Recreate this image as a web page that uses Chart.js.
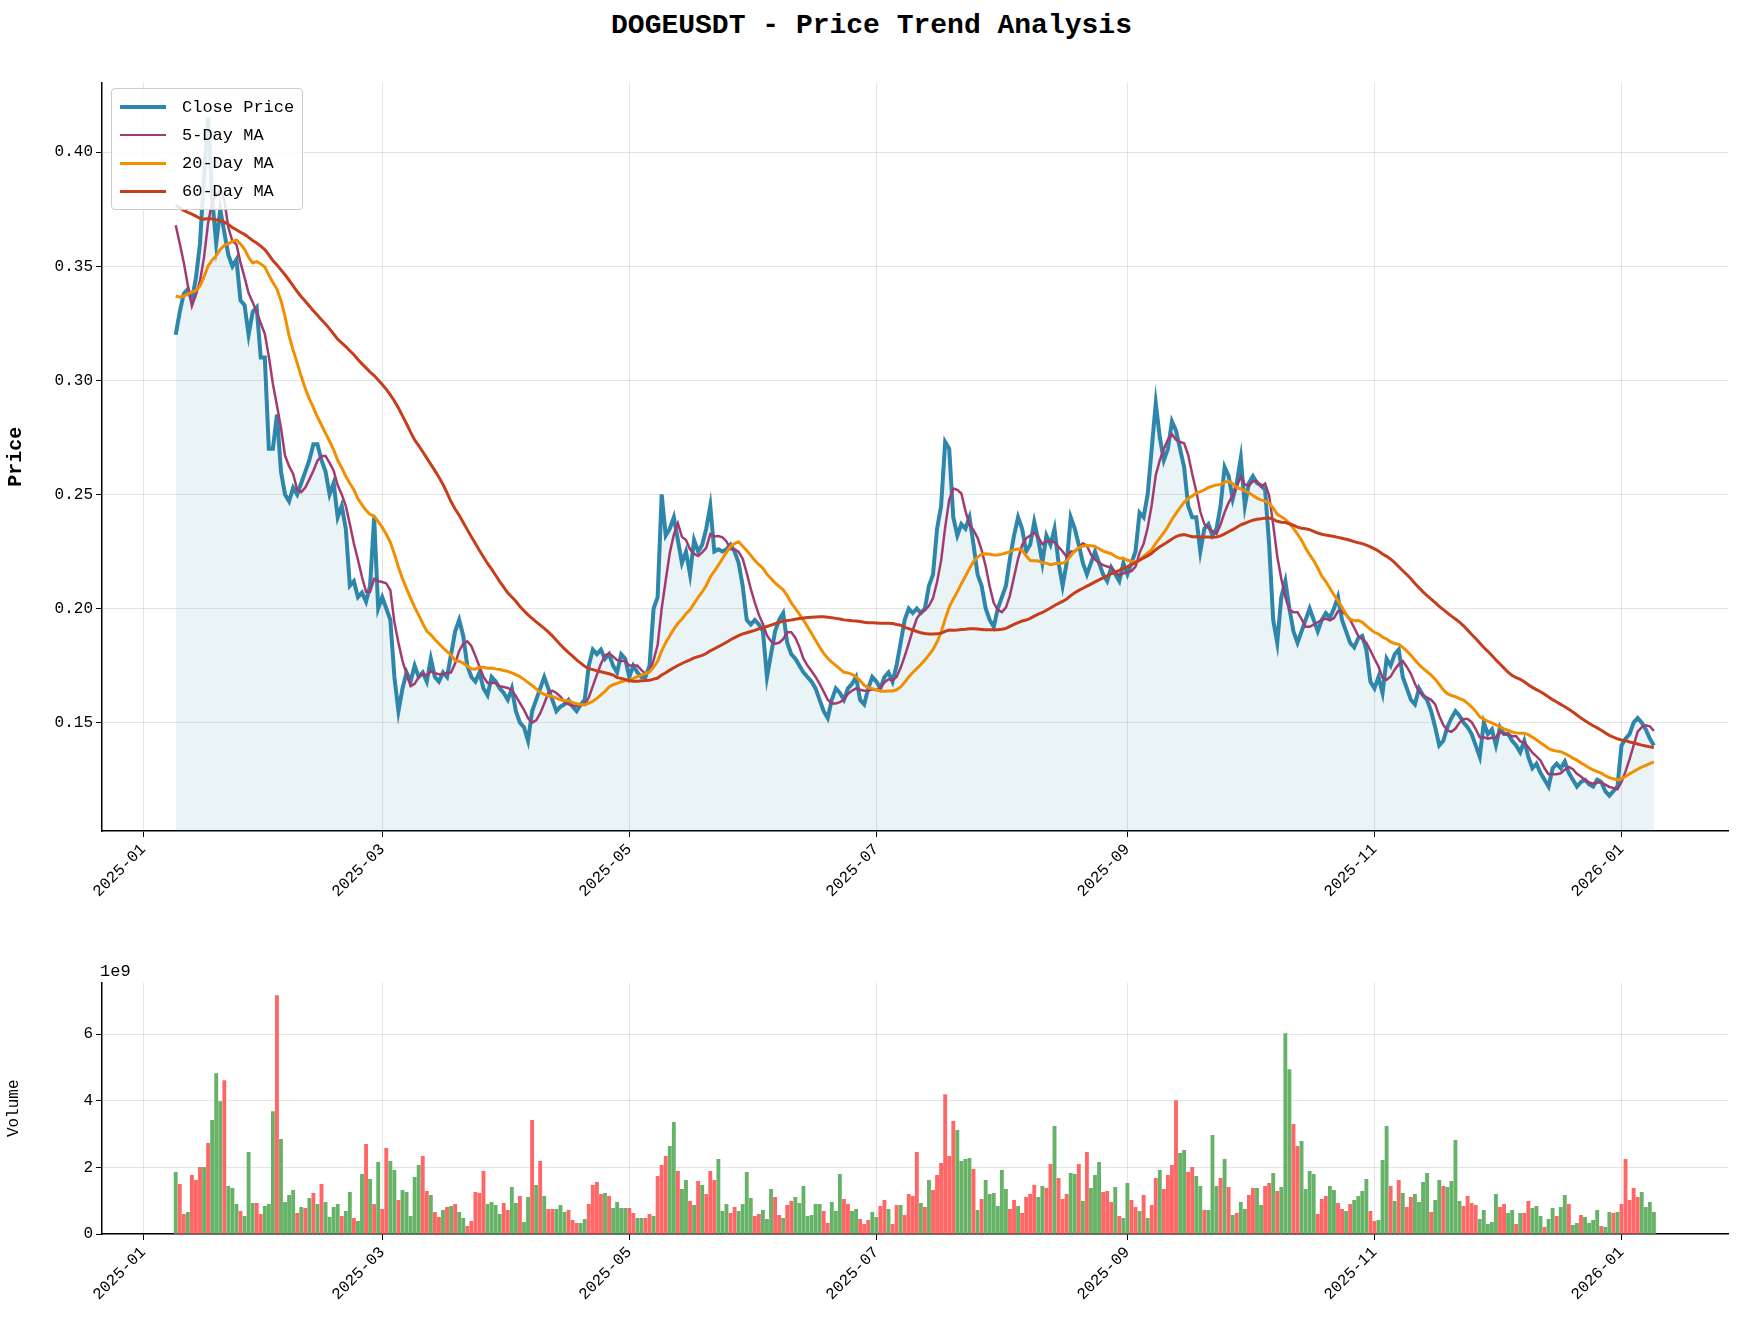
<!DOCTYPE html>
<html><head><meta charset="utf-8">
<script src="https://cdn.jsdelivr.net/npm/chart.js@4.4.0/dist/chart.umd.min.js"></script>
<style>
body{margin:0;background:#fff;width:1743px;height:1327px;position:relative;overflow:hidden;font-family:"Liberation Mono","DejaVu Sans Mono",monospace}
.box{position:absolute}
#title{position:absolute;top:10px;left:0;width:1743px;text-align:center;font-size:28px;font-weight:bold}
#legend{position:absolute;left:111px;top:88px;background:rgba(255,255,255,0.85);border:1px solid #ccc;border-radius:4px;padding:4px 8px;font-size:17px}
#legend div{display:flex;align-items:center;height:28px}
#legend span{display:inline-block;width:46px;margin-right:16px}
#e9{position:absolute;left:100px;top:962px;font-size:17px}
</style></head><body>
<div id="title">DOGEUSDT - Price Trend Analysis</div>
<div class="box" style="left:0;top:70px;width:1745px;height:870px"><canvas id="price"></canvas></div>
<div class="box" style="left:0;top:970px;width:1745px;height:350px"><canvas id="vol"></canvas></div>
<div id="legend">
<div><span style="border-top:4px solid #2E86AB"></span>Close Price</div>
<div><span style="border-top:2.5px solid #A23B72"></span>5-Day MA</div>
<div><span style="border-top:3px solid #F18F01"></span>20-Day MA</div>
<div><span style="border-top:3px solid #C73E1D"></span>60-Day MA</div>
</div>
<div id="e9">1e9</div>
<script>
// closes before the plotted window (only used to seed the moving averages)
const preCloses = [0.40,0.41,0.39,0.38,0.40,0.42,0.41,0.40,0.39,0.38,0.39,0.41,0.42,0.43,0.41,0.40,0.39,0.40,0.41,0.40,
  0.39,0.40,0.41,0.42,0.40,0.39,0.38,0.39,0.40,0.40,0.39,0.38,0.39,0.40,0.39,0.38,0.37,0.38,0.39,0.38,
  0.34,0.33,0.32,0.32,0.33,0.32,0.31,0.32,0.33,0.32,0.32,0.33,0.34,0.33,0.34,
  0.37,0.38,0.39,0.38];

// daily closes from 2025-01-09 to 2026-01-09
const closeJan25 = [0.32,0.33,0.338,0.34,0.335,0.345,0.36,0.39,0.415,0.38,0.36,0.375,0.365,0.355,0.35,0.353,0.335,0.333,0.32,0.33,0.332,0.31,0.31];
const closeFeb = [0.27,0.27,0.285,0.26,0.25,0.247,0.253,0.25,0.255,0.26,0.265,0.272,0.272,0.265,0.26,0.25,0.255,0.24,0.245,0.235,0.21,0.212,0.205,0.207,0.203,0.21,0.24,0.2];
const closeMar = [0.205,0.2,0.195,0.17,0.155,0.165,0.172,0.168,0.175,0.17,0.172,0.168,0.178,0.17,0.168,0.172,0.17,0.18,0.19,0.195,0.188,0.175,0.17,0.168,0.172,0.165,0.162,0.17,0.168,0.165,0.163];
const closeApr = [0.16,0.165,0.155,0.15,0.148,0.142,0.155,0.16,0.165,0.17,0.165,0.16,0.155,0.157,0.158,0.16,0.157,0.155,0.158,0.16,0.175,0.182,0.18,0.182,0.178,0.18,0.175,0.172,0.18,0.178];
const closeMay = [0.17,0.175,0.172,0.17,0.17,0.175,0.2,0.205,0.25,0.232,0.235,0.24,0.23,0.22,0.225,0.215,0.23,0.225,0.228,0.235,0.245,0.225,0.226,0.225,0.226,0.228,0.225,0.22,0.21,0.195,0.193];
const closeJun = [0.195,0.193,0.19,0.17,0.18,0.19,0.195,0.198,0.185,0.18,0.178,0.175,0.172,0.17,0.168,0.165,0.16,0.155,0.152,0.16,0.165,0.163,0.16,0.165,0.167,0.17,0.16,0.158,0.165,0.17];
const closeJul = [0.168,0.165,0.17,0.172,0.168,0.175,0.185,0.195,0.2,0.198,0.2,0.198,0.2,0.21,0.215,0.235,0.245,0.273,0.27,0.24,0.232,0.237,0.235,0.24,0.228,0.215,0.21,0.2,0.195,0.192,0.2];
const closeAug = [0.205,0.21,0.222,0.232,0.24,0.235,0.225,0.228,0.238,0.23,0.22,0.232,0.228,0.235,0.22,0.21,0.22,0.24,0.235,0.228,0.22,0.215,0.22,0.225,0.22,0.215,0.212,0.218,0.215,0.212,0.22];
const closeSep = [0.215,0.22,0.225,0.242,0.24,0.25,0.27,0.29,0.275,0.265,0.27,0.282,0.278,0.27,0.262,0.245,0.24,0.24,0.225,0.235,0.237,0.232,0.235,0.245,0.262,0.258,0.248,0.255,0.266,0.245];
const closeOct = [0.255,0.258,0.255,0.254,0.252,0.228,0.195,0.185,0.205,0.212,0.2,0.19,0.185,0.19,0.195,0.2,0.195,0.19,0.195,0.198,0.196,0.2,0.205,0.195,0.19,0.185,0.183,0.187,0.188,0.182,0.168];
const closeNov = [0.165,0.17,0.163,0.178,0.175,0.18,0.182,0.17,0.165,0.16,0.158,0.165,0.162,0.16,0.155,0.148,0.14,0.142,0.148,0.152,0.155,0.153,0.15,0.148,0.145,0.14,0.135,0.15,0.145,0.147];
const closeDec = [0.14,0.148,0.145,0.145,0.142,0.14,0.137,0.142,0.135,0.13,0.132,0.128,0.125,0.122,0.13,0.132,0.13,0.133,0.128,0.125,0.122,0.124,0.125,0.123,0.122,0.125,0.124,0.12,0.118,0.12,0.122];
const closeJan26 = [0.14,0.143,0.145,0.15,0.152,0.15,0.147,0.143,0.14];

// volume in billions, same days
const volJan25 = [1.85,1.49,0.59,0.65,1.76,1.61,2.0,2.0,2.72,3.41,4.82,3.98,4.61,1.43,1.37,0.89,0.68,0.53,2.45,0.92,0.92,0.59,0.83];
const volFeb = [0.89,3.68,7.16,2.84,0.95,1.16,1.31,0.62,0.80,0.77,1.07,1.22,0.89,1.49,0.95,0.50,0.80,0.89,0.53,0.68,1.25,0.47,0.38,1.79,2.69,1.64,0.89,2.15];
const volMar = [0.74,2.57,2.18,1.91,1.01,1.31,1.25,0.53,1.70,2.06,2.33,1.28,1.16,0.65,0.50,0.71,0.80,0.83,0.89,0.65,0.47,0.23,0.38,1.25,1.22,1.88,0.89,0.95,0.86,0.59,0.92];
const volApr = [0.71,1.40,0.92,1.13,0.35,1.10,3.41,1.46,2.18,1.13,0.74,0.74,0.74,0.86,0.65,0.71,0.41,0.32,0.32,0.44,0.89,1.46,1.55,1.19,1.22,1.13,0.77,0.95,0.77,0.77];
const volMay = [0.77,0.62,0.47,0.47,0.47,0.59,0.53,1.73,2.06,2.33,2.63,3.35,1.88,1.34,1.61,0.98,0.86,1.58,1.46,1.19,1.88,1.61,2.24,0.68,0.89,0.62,0.80,0.68,0.89,1.85,1.07];
const volJun = [0.53,0.59,0.71,0.44,1.34,1.10,0.56,0.47,0.86,0.98,1.10,0.92,1.43,0.53,0.56,0.89,0.89,0.68,0.32,0.95,0.68,1.79,1.04,0.89,0.68,0.74,0.44,0.29,0.41,0.65];
const volJul = [0.50,0.83,1.01,0.74,0.29,0.86,0.86,0.56,1.19,1.13,2.45,0.92,0.80,1.61,1.31,1.76,2.12,4.19,2.33,3.38,3.11,2.18,2.24,2.27,1.94,0.71,1.04,1.61,1.19,1.22,0.83];
const volAug = [1.91,1.34,0.74,1.01,0.83,0.62,1.10,1.19,1.46,1.10,1.43,1.37,2.09,3.23,1.67,1.04,1.19,1.82,1.79,2.09,0.98,2.45,1.37,1.76,2.15,1.25,1.28,0.95,1.40,0.53,0.47];
const volSep = [1.52,1.01,0.80,0.68,1.16,0.47,0.86,1.67,1.91,1.34,1.76,2.06,4.01,2.42,2.51,1.85,2.00,1.73,1.43,0.71,0.71,2.96,1.43,1.67,2.24,1.40,0.56,0.62,0.95,0.74];
const volOct = [1.16,1.37,1.37,0.86,1.43,1.52,1.82,1.28,1.40,6.02,4.94,3.29,2.63,2.78,1.34,1.88,1.79,0.59,1.04,1.13,1.43,1.31,0.92,0.74,0.68,0.89,1.01,1.13,1.28,1.64,0.68];
const volNov = [0.38,0.41,2.21,3.23,1.43,0.98,1.61,1.22,0.80,1.10,1.19,0.95,1.55,1.82,0.65,1.01,1.61,1.43,1.40,1.58,2.81,0.98,0.83,1.13,0.92,0.86,0.44,0.71,0.29,0.35];
const volDec = [1.19,0.80,0.89,0.62,0.71,0.29,0.62,0.62,0.98,0.77,0.83,0.53,0.20,0.44,0.77,0.53,0.80,1.16,0.89,0.26,0.32,0.56,0.50,0.32,0.41,0.71,0.23,0.20,0.65,0.62,0.65];
const volJan26 = [0.89,2.24,1.01,1.37,1.10,1.25,0.80,0.95,0.65];

// candle direction per day: G = close above open, R = below
const dirJan25 = 'GRRGRRRGRGGGRGGGRGGGRRG';
const dirFeb = 'GGRGGGGRGRGRGRGGGGRGGRGGRGRG';
const dirMar = 'RRGGRGGGGGRRGRRGRGRGGRRRRRGGGGR';
const dirApr = 'RGGRGGRGRGRRGGGRRRGGRRRRGRGGGG';
const dirMay = 'RRGGRRGRRRGGRGGRGRGRRRGGGRRGGGG';
const dirJun = 'RRGGGRRGRRGGGGGGGRRGGGRRGGRRRG';
const dirJul = 'GRRGRRGRRRRGRGRRRRRRGGGGRGRGGGG';
const dirAug = 'GGRRGRRRRGGRRGRRRGGRGRGGGRRRGRG';
const dirSep = 'GRRGRGRRGRRRRGGRRGGRGGGRGRGRGG';
const dirOct = 'RRGGRRGRGGGRRGGGGRRRGGRRGRGGGGR';
const dirNov = 'RGGGRGRGRRGGGGRGGRGGGGRRRRGGGG';
const dirDec = 'GRRGGRGRRGGGRGGRGGRGGRGGGGRGGRG';
const dirJan26 = 'RRRRRGGGG';

// month tick positions (days since 2025-01-01) and labels
const monthDays = [0,59,120,181,243,304,365];
const monthLabels = ['2025-01','2025-03','2025-05','2025-07','2025-09','2025-11','2026-01'];
const startDay = 8; // 2025-01-09

const closes = [].concat(closeJan25,closeFeb,closeMar,closeApr,closeMay,closeJun,closeJul,closeAug,closeSep,closeOct,closeNov,closeDec,closeJan26);
const vols = [].concat(volJan25,volFeb,volMar,volApr,volMay,volJun,volJul,volAug,volSep,volOct,volNov,volDec,volJan26);
const dirs = (dirJan25+dirFeb+dirMar+dirApr+dirMay+dirJun+dirJul+dirAug+dirSep+dirOct+dirNov+dirDec+dirJan26).split('');

const allCloses = preCloses.concat(closes);
function ma(n){const off=preCloses.length;return closes.map((_,i)=>{const j=i+off;const s=allCloses.slice(Math.max(0,j-n+1),j+1);return s.reduce((a,b)=>a+b,0)/s.length;});}
const pts = arr => arr.map((v,i)=>({x:startDay+i,y:v}));

const font = {family:'"Liberation Mono","DejaVu Sans Mono",monospace',size:16};
Chart.defaults.color = '#000';
const grid = {color:'rgba(0,0,0,0.1)',borderDash:[6,4],drawTicks:true,tickColor:'#000',tickLength:6,offset:false};
function xAxis(h){return {type:'linear',min:-10.2,max:391.3,offset:false,
  afterBuildTicks:s=>{s.ticks=monthDays.map(v=>({value:v}));},
  afterFit:s=>{s.height=h;},
  ticks:{callback:(v)=>monthLabels[monthDays.indexOf(v)],maxRotation:45,minRotation:45,font,autoSkip:false},
  grid:{...grid},border:{color:'#000',width:1.5}};}

new Chart(document.getElementById('price'),{
  type:'line',
  data:{datasets:[
    {data:pts(closes),borderColor:'#2E86AB',borderWidth:4,backgroundColor:'rgba(46,134,171,0.1)',fill:'start',pointRadius:0,tension:0},
    {data:pts(ma(5)),borderColor:'#A23B72',borderWidth:2.5,pointRadius:0,fill:false},
    {data:pts(ma(20)),borderColor:'#F18F01',borderWidth:3,pointRadius:0,fill:false},
    {data:pts(ma(60)),borderColor:'#C73E1D',borderWidth:3,pointRadius:0,fill:false}
  ].reverse()},
  options:{responsive:true,maintainAspectRatio:false,animation:false,
    layout:{padding:{top:8,right:17}},
    plugins:{legend:{display:false},tooltip:{enabled:false}},
    scales:{x:xAxis(109),
      y:{min:0.1025,max:0.4305,afterFit:s=>{s.width=102;},
        afterBuildTicks:s=>{s.ticks=[0.15,0.2,0.25,0.3,0.35,0.4].map(v=>({value:v}));},
        ticks:{font,callback:v=>v.toFixed(2)},
        title:{display:true,text:'Price',font:{...font,size:20,weight:'bold'}},
        grid:{...grid},border:{color:'#000',width:1.5}}}}
});

new Chart(document.getElementById('vol'),{
  type:'bar',
  data:{datasets:[{data:vols.map((v,i)=>({x:startDay+i,y:v*1e9})),
    backgroundColor:dirs.map(d=>d==='G'?'rgba(102,178,102,1)':'rgba(255,102,102,1)'),
    barThickness:3.2}]},
  options:{responsive:true,maintainAspectRatio:false,animation:false,
    layout:{padding:{top:8,right:17}},
    plugins:{legend:{display:false},tooltip:{enabled:false}},
    scales:{x:xAxis(86),
      y:{min:0,max:7.55e9,afterFit:s=>{s.width=102;},
        afterBuildTicks:s=>{s.ticks=[0,2e9,4e9,6e9].map(v=>({value:v}));},
        ticks:{font,callback:v=>v/1e9},
        title:{display:true,text:'Volume',font:{...font,size:16}},
        grid:{...grid},border:{color:'#000',width:1.5}}}}
});
</script>
</body></html>
